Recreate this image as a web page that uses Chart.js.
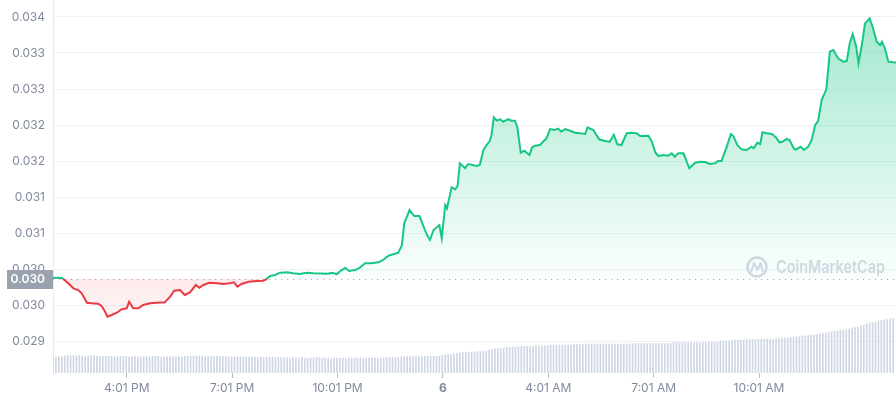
<!DOCTYPE html>
<html>
<head>
<meta charset="utf-8">
<script src="https://cdn.jsdelivr.net/npm/chart.js@4.4.0/dist/chart.umd.min.js"></script>
<style>
html, body { margin: 0; padding: 0; background: #fff; }
#wrap { width: 896px; height: 400px; }
</style>
</head>
<body>
<div id="wrap"><canvas id="chart" width="896" height="400"></canvas></div>
<script>
"use strict";

// minutes since 1:55 PM
var priceTimes = [
    0, 15, 18, 26, 35, 43, 49, 58, 66, 77,
    83, 89, 93, 100, 109, 117, 126, 130, 137, 146,
    154, 166, 177, 191, 200, 207, 217, 225, 234, 244,
    250, 257, 267, 280, 291, 302, 309, 315, 322, 334,
    348, 359, 364, 371, 379, 388, 401, 410, 422, 433,
    445, 470, 476, 485, 493, 499, 506, 516, 524, 533,
    544, 556, 564, 573, 584, 590, 596, 600, 609, 617,
    626, 632, 639, 644, 650, 660, 664, 670, 673, 681,
    687, 691, 695, 704, 709, 724, 729, 735, 740, 746,
    749, 753, 758, 764, 769, 778, 783, 789, 793, 799,
    805, 814, 818, 823, 832, 837, 843, 849, 857, 863,
    868, 875, 883, 892, 900, 909, 913, 923, 933, 943,
    951, 958, 964, 971, 980, 988, 997, 1003, 1017, 1023,
    1029, 1034, 1043, 1051, 1057, 1062, 1068, 1077, 1087, 1097,
    1105, 1114, 1122, 1131, 1136, 1142, 1151, 1158, 1162, 1169,
    1176, 1185, 1193, 1197, 1203, 1208, 1212, 1219, 1228, 1235,
    1241, 1246, 1253, 1258, 1266, 1270, 1277, 1283, 1290, 1296,
    1302, 1307, 1313, 1321, 1327, 1333, 1341, 1350, 1356, 1361,
    1366, 1372, 1376, 1383, 1387, 1395, 1400, 1407, 1413, 1416,
    1421, 1427, 1435, 1440
];

var prices = [
    0.030378, 0.030376, 0.030357, 0.030301, 0.030232, 0.030208, 0.030162, 0.030032, 0.030024, 0.030018,
    0.029986, 0.029907, 0.029837, 0.029861, 0.029893, 0.029940, 0.029954, 0.030046, 0.029954, 0.029954,
    0.030000, 0.030024, 0.030032, 0.030037, 0.030115, 0.030199, 0.030208, 0.030139, 0.030176, 0.030278,
    0.030240, 0.030278, 0.030310, 0.030301, 0.030292, 0.030301, 0.030315, 0.030254, 0.030292, 0.030324,
    0.030333, 0.030338, 0.030357, 0.030403, 0.030417, 0.030449, 0.030454, 0.030440, 0.030430, 0.030449,
    0.030440, 0.030435, 0.030449, 0.030430, 0.030486, 0.030514, 0.030472, 0.030486, 0.030518, 0.030579,
    0.030579, 0.030593, 0.030625, 0.030685, 0.030712, 0.030726, 0.030833, 0.031135, 0.031319, 0.031236,
    0.031236, 0.031111, 0.030972, 0.030903, 0.031042, 0.031111, 0.030926, 0.031389, 0.031343, 0.031635,
    0.031607, 0.031653, 0.031968, 0.031899, 0.031958, 0.031930, 0.031944, 0.032146, 0.032215, 0.032278,
    0.032361, 0.032607, 0.032560, 0.032579, 0.032546, 0.032583, 0.032560, 0.032560, 0.032476, 0.032115,
    0.032143, 0.032083, 0.032185, 0.032212, 0.032222, 0.032268, 0.032315, 0.032444, 0.032431, 0.032449,
    0.032407, 0.032444, 0.032421, 0.032393, 0.032385, 0.032375, 0.032468, 0.032431, 0.032301, 0.032278,
    0.032268, 0.032365, 0.032232, 0.032222, 0.032385, 0.032393, 0.032385, 0.032347, 0.032351, 0.032268,
    0.032118, 0.032069, 0.032083, 0.032074, 0.032107, 0.032060, 0.032107, 0.032107, 0.031899, 0.031976,
    0.031990, 0.031986, 0.031958, 0.031968, 0.032000, 0.032000, 0.032199, 0.032375, 0.032347, 0.032222,
    0.032162, 0.032153, 0.032199, 0.032176, 0.032254, 0.032236, 0.032399, 0.032385, 0.032375, 0.032329,
    0.032260, 0.032268, 0.032306, 0.032292, 0.032167, 0.032162, 0.032199, 0.032153, 0.032199, 0.032292,
    0.032500, 0.032556, 0.032847, 0.032996, 0.033518, 0.033542, 0.033426, 0.033379, 0.033389, 0.033635,
    0.033764, 0.033587, 0.033357, 0.033681, 0.033912, 0.033982, 0.033865, 0.033657, 0.033611, 0.033657,
    0.033565, 0.033379, 0.033371, 0.033368
];

// one bar every 5 minutes, relative volume
var volStep = 5;
var volumes = [
    16, 16, 16.5, 16.5, 17, 17.5, 17, 17.5, 17, 17.5, 17, 16.5,
    17, 17.5, 17.5, 17, 16.5, 16.5, 17, 16.5, 16.5, 16.5, 16, 16.5,
    16.5, 16.5, 16, 16.5, 16.5, 16, 16.5, 16.5, 16.5, 16, 16.5, 16.5,
    16.5, 16, 16, 16.5, 16.5, 16.5, 16, 16.5, 16, 16.5, 16.5, 16.5,
    17, 17, 17, 17, 16.5, 17, 17, 16.5, 17, 16.5, 16.5, 16.5,
    16.5, 16, 16.5, 16, 16, 16, 16, 16, 16, 16, 15.5, 16,
    15.5, 16, 15.5, 16, 15.5, 15.5, 15.5, 15.5, 15.5, 15, 15.5, 15,
    15, 15.5, 15, 15, 15, 15, 15.5, 15, 15, 15, 15, 14.5,
    15, 15, 15, 15, 15, 15, 15, 15, 15, 15, 15, 15,
    15, 15, 15, 15, 15, 15, 15.5, 15.5, 15.5, 15.5, 15.5, 16,
    16.5, 16.5, 16.5, 16.5, 16.5, 16.5, 16.5, 16.5, 16.5, 16.5, 16.5, 16.5,
    17, 17.5, 18, 18.5, 18.5, 19.5, 19.5, 20, 20.5, 20.5, 21, 21,
    21, 21.5, 21.5, 21.5, 22, 23, 23, 24, 24.5, 24.5, 25, 25.5,
    26, 26, 26, 26.5, 26.5, 26.5, 26.5, 26.5, 26.5, 27, 27, 27,
    27, 27.5, 28, 28, 28, 28, 28, 28, 28, 28, 28.5, 28.5,
    28.5, 28.5, 29, 29, 29, 29, 29, 29, 29, 29, 29, 29,
    29, 29, 29, 29, 29, 29, 29.5, 29.5, 29.5, 29.5, 29.5, 29.5,
    29.5, 29.5, 29.5, 29.5, 29.5, 29.5, 29.5, 29.5, 30.5, 30.5, 30.5, 30.5,
    30.5, 30.5, 30.5, 30.5, 30.5, 30.5, 30.5, 30.5, 30.5, 30.5, 30.5, 30.5,
    32, 32, 32, 32, 33, 33, 33, 33, 33, 33.5, 33.5, 33.5,
    33.5, 34, 34, 34, 34, 34, 34, 34.5, 34.5, 35, 35, 35,
    35.5, 36, 36, 36.5, 37, 37, 37.5, 38, 38, 38.5, 39, 39.5,
    40, 40.5, 41, 41.5, 42, 42.5, 43, 43.5, 44, 45, 45.5, 46,
    47, 48, 49, 50, 50.5, 51, 52, 52.5, 53, 53.5, 54, 54.5
];

var baseline = 0.030362;
var baselineLabel = '0.030';

var yTickValues = [0.0295, 0.0300, 0.0305, 0.0310, 0.0315, 0.0320, 0.0325, 0.0330, 0.0335, 0.0340];
var yTickLabels = ['0.029', '0.030', '0.030', '0.031', '0.031', '0.032', '0.032', '0.033', '0.033', '0.034'];

var xTickValues = [126, 306, 486, 666, 846, 1026, 1206];
var xTickLabels = ['4:01 PM', '7:01 PM', '10:01 PM', '6', '4:01 AM', '7:01 AM', '10:01 AM'];

var green = '#16c784';
var red = '#ea3943';
var textGray = '#808a9d';
var fontFamily = 'Inter, "Noto Sans", sans-serif';

function baselineFraction(chart) {
    var area = chart.chartArea;
    var yb = chart.scales.y.getPixelForValue(baseline);
    return Math.min(Math.max((yb - area.top) / (area.bottom - area.top), 0), 1);
}

function lineColor(context) {
    var chart = context.chart;
    var area = chart.chartArea;
    if (!area) return green;
    var f = baselineFraction(chart);
    var g = chart.ctx.createLinearGradient(0, area.top, 0, area.bottom);
    g.addColorStop(0, green);
    g.addColorStop(f, green);
    g.addColorStop(f, red);
    g.addColorStop(1, red);
    return g;
}

function fillColor(context) {
    var chart = context.chart;
    var area = chart.chartArea;
    if (!area) return 'rgba(22,199,132,0.2)';
    var f = baselineFraction(chart);
    var h = area.bottom - area.top;
    var g = chart.ctx.createLinearGradient(0, area.top, 0, area.bottom);
    g.addColorStop(0, 'rgba(22,199,132,0.42)');
    g.addColorStop(f, 'rgba(22,199,132,0.02)');
    g.addColorStop(f, 'rgba(234,57,67,0.11)');
    g.addColorStop(Math.min(f + 45 / h, 1), 'rgba(234,57,67,0.04)');
    g.addColorStop(1, 'rgba(234,57,67,0)');
    return g;
}

var overlay = {
    id: 'overlay',
    beforeDatasetsDraw: function(chart) {
        var ctx = chart.ctx;
        var area = chart.chartArea;
        var yb = chart.scales.y.getPixelForValue(baseline);
        ctx.save();
        // watermark
        ctx.strokeStyle = '#d3d9e4';
        ctx.fillStyle = '#d3d9e4';
        ctx.lineWidth = 2.4;
        ctx.beginPath();
        ctx.arc(757, 267, 9.5, 0, Math.PI * 2);
        ctx.stroke();
        ctx.lineWidth = 2;
        ctx.lineJoin = 'round';
        ctx.beginPath();
        ctx.moveTo(751, 272);
        ctx.lineTo(754, 263);
        ctx.lineTo(757.5, 270);
        ctx.lineTo(760.5, 263);
        ctx.lineTo(763, 272);
        ctx.stroke();
        ctx.font = '600 17px ' + fontFamily;
        ctx.textBaseline = 'middle';
        ctx.textAlign = 'left';
        var text = 'CoinMarketCap';
        var w = ctx.measureText(text).width;
        ctx.translate(776, 268);
        ctx.scale(109 / w, 1);
        ctx.fillText(text, 0, 0);
        ctx.restore();
        // dotted baseline
        ctx.save();
        ctx.strokeStyle = '#a3abb8';
        ctx.lineWidth = 1;
        ctx.setLineDash([1.2, 4.8]);
        ctx.beginPath();
        ctx.moveTo(area.left, Math.round(yb) + 0.5);
        ctx.lineTo(area.right, Math.round(yb) + 0.5);
        ctx.stroke();
        ctx.restore();
    },
    afterDatasetsDraw: function(chart) {
        var ctx = chart.ctx;
        var yb = chart.scales.y.getPixelForValue(baseline);
        ctx.save();
        ctx.fillStyle = '#9aa1af';
        ctx.fillRect(7, Math.round(yb) - 9, 46, 19);
        ctx.fillStyle = '#ffffff';
        ctx.font = '600 12px ' + fontFamily;
        ctx.textAlign = 'right';
        ctx.textBaseline = 'middle';
        ctx.fillText(baselineLabel, 45, Math.round(yb) + 0.5);
        ctx.restore();
    }
};

var pricePoints = priceTimes.map(function(t, i) {
    return { x: t, y: prices[i] };
});
var volumePoints = volumes.map(function(v, i) {
    return { x: i * volStep, y: v };
});

var chart = new Chart(document.getElementById('chart'), {
    type: 'line',
    data: {
        datasets: [{
            type: 'line',
            data: pricePoints,
            yAxisID: 'y',
            borderColor: lineColor,
            backgroundColor: fillColor,
            borderWidth: 2,
            pointRadius: 0,
            tension: 0,
            fill: { target: { value: baseline } },
            order: 0
        }, {
            type: 'bar',
            data: volumePoints,
            yAxisID: 'v',
            backgroundColor: '#cfd6e4',
            barThickness: 1,
            order: 1
        }]
    },
    options: {
        responsive: false,
        animation: false,
        layout: { padding: 0 },
        plugins: {
            legend: { display: false },
            tooltip: { enabled: false }
        },
        scales: {
            x: {
                type: 'linear',
                min: 0,
                max: 1440,
                offset: false,
                grid: {
                    offset: false,
                    drawOnChartArea: false,
                    drawTicks: true,
                    tickLength: 5,
                    color: '#b9c0cc'
                },
                border: { display: false },
                afterBuildTicks: function(scale) {
                    scale.ticks = xTickValues.map(function(v) { return { value: v }; });
                },
                afterFit: function(scale) {
                    scale.height = 27;
                    scale.paddingLeft = 0;
                    scale.paddingRight = 0;
                },
                ticks: {
                    autoSkip: false,
                    maxRotation: 0,
                    padding: 3,
                    color: textGray,
                    font: function(c) {
                        var bold = xTickLabels[c.index] === '6';
                        return { family: fontFamily, size: 12, weight: bold ? 'bold' : 'normal' };
                    },
                    callback: function(value, index) {
                        return xTickLabels[index];
                    }
                }
            },
            y: {
                type: 'linear',
                position: 'left',
                min: 0.029056,
                max: 0.034236,
                grid: {
                    color: '#eff2f5',
                    drawTicks: false
                },
                border: { display: true, color: '#e7eaef' },
                afterBuildTicks: function(scale) {
                    scale.ticks = yTickValues.map(function(v) { return { value: v }; });
                },
                afterFit: function(scale) {
                    scale.width = 53;
                    scale.paddingTop = 0;
                    scale.paddingBottom = 0;
                },
                ticks: {
                    padding: 8,
                    color: textGray,
                    font: { family: fontFamily, size: 12 },
                    callback: function(value, index) {
                        return yTickLabels[index];
                    }
                }
            },
            v: {
                type: 'linear',
                display: false,
                min: 0,
                max: 373
            }
        }
    },
    plugins: [overlay]
});
</script>
</body>
</html>
